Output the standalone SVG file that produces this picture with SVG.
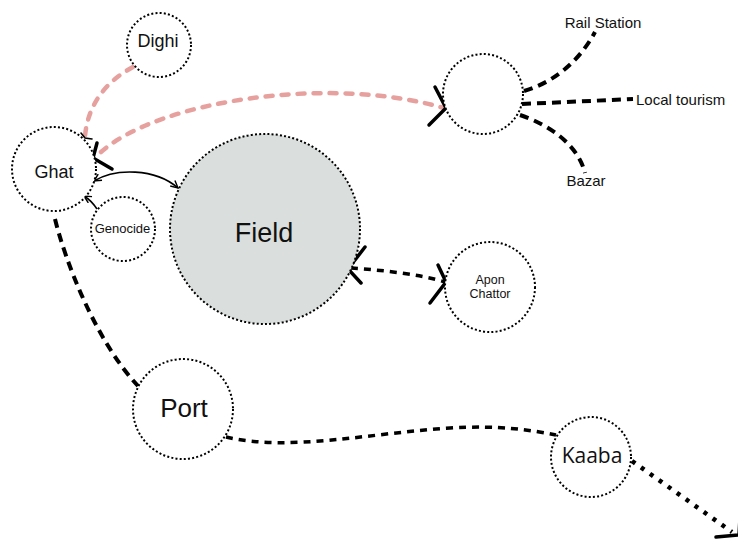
<svg xmlns="http://www.w3.org/2000/svg" width="738" height="540" viewBox="0 0 738 540">
  <defs>
    <style>
      .node { fill: #ffffff; stroke: #000; stroke-width: 2; stroke-dasharray: 2 2.2; }
      .field { fill: #dadfdd; }
      .lbl { font-family: "Liberation Sans", Arial, sans-serif; fill: #111; text-anchor: middle; }
      .lbl2 { font-family: "Open Sans", "Liberation Sans", sans-serif; fill: #111; text-anchor: middle; }
      .pink { fill: none; stroke: #e6a19e; stroke-width: 4.5; stroke-linecap: round; stroke-dasharray: 7 9; }
      .dash { fill: none; stroke: #000; stroke-width: 4; stroke-dasharray: 9 6; }
      .dash2 { fill: none; stroke: #000; stroke-width: 3.5; stroke-dasharray: 7 6; }
      .dots { fill: none; stroke: #000; stroke-width: 4.5; stroke-dasharray: 4 7; }
      .thin { fill: none; stroke: #000; stroke-width: 1.6; }
      .head { fill: none; stroke: #000; stroke-width: 3.5; stroke-linecap: round; stroke-linejoin: miter; }
      .tick { fill: none; stroke: #000; stroke-width: 1.6; stroke-linecap: round; }
    </style>
    <marker id="openArrow" viewBox="0 0 10 10" refX="9" refY="5" markerWidth="9" markerHeight="9" markerUnits="userSpaceOnUse" orient="auto-start-reverse">
      <path d="M1,1 L9,5 L1,9" fill="none" stroke="#000" stroke-width="1.6"/>
    </marker>
  </defs>

  <!-- connectors -->
  <g id="connectors">
    <!-- Dighi to Ghat -->
    <path class="pink" d="M133,67 C105,82 88,105 85,136"/>
    <polyline class="tick" points="81,133 85,138 92,139"/>

    <!-- Ghat to the hub on the right -->
    <path class="pink" d="M101,152 C160,100 330,75 444,108"/>
    <polyline class="head" points="97,143 93,158 112,169"/>
    <polyline class="head" points="435,87 446,108 429,125"/>

    <!-- Ghat <-> Field -->
    <path class="thin" d="M94,181 C115,168 155,168 178,188" marker-start="url(#openArrow)" marker-end="url(#openArrow)"/>

    <!-- Genocide to Ghat -->
    <path class="thin" d="M97,209 C93,203 89,199 84,196" marker-end="url(#openArrow)"/>

    <!-- Field <-> Apon Chattor -->
    <path class="dash2" d="M351,268 C380,270 420,274 445,282"/>
    <polyline class="head" points="365,247 348,269 361,283"/>
    <polyline class="head" points="438,265 446,282 430,303"/>

    <!-- hub spokes -->
    <path class="dash" d="M524,91 C555,82 580,60 595,32"/>
    <path class="dash" d="M522,104 L633,99"/>
    <path class="dash" d="M520,115 C550,125 578,145 585,173"/>

    <!-- Ghat to Port -->
    <path class="dash" d="M55,219 C65,260 95,340 138,386"/>

    <!-- Port to Kaaba -->
    <path class="dash2" d="M226,437 C290,452 370,433 450,428 C500,425 530,430 556,435"/>

    <!-- Kaaba onward -->
    <path class="dots" d="M632,461 L732,532"/>
    <polyline class="head" points="716,537 739,535 740,518"/>
  </g>

  <!-- nodes -->
  <g id="node-dighi">
    <circle class="node" cx="159" cy="45" r="32"/>
    <text class="lbl" x="158" y="47" font-size="18">Dighi</text>
  </g>
  <g id="node-ghat">
    <circle class="node" cx="54" cy="169" r="42"/>
    <text class="lbl" x="54" y="178" font-size="18">Ghat</text>
  </g>
  <g id="node-genocide">
    <circle class="node" cx="123" cy="229" r="32"/>
    <text class="lbl" x="122.5" y="233" font-size="13">Genocide</text>
  </g>
  <g id="node-field">
    <circle class="node field" cx="265" cy="229" r="95"/>
    <text class="lbl" x="264" y="242" font-size="27">Field</text>
  </g>
  <g id="node-hub">
    <circle class="node" cx="483" cy="94" r="40"/>
  </g>
  <g id="label-rail">
    <text class="lbl" x="603" y="28" font-size="15">Rail Station</text>
  </g>
  <g id="label-tourism">
    <text class="lbl" x="636" y="105" font-size="15" style="text-anchor:start">Local tourism</text>
  </g>
  <g id="label-bazar">
    <text class="lbl" x="586" y="186" font-size="15">Bazar</text>
  </g>
  <g id="node-apon">
    <circle class="node" cx="490" cy="287" r="45"/>
    <text class="lbl" x="490" y="284" font-size="12.5">Apon</text>
    <text class="lbl" x="490" y="297.5" font-size="12.5">Chattor</text>
  </g>
  <g id="node-port">
    <circle class="node" cx="183" cy="409" r="50"/>
    <text class="lbl" x="184" y="417" font-size="26">Port</text>
  </g>
  <g id="node-kaaba">
    <circle class="node" cx="591" cy="457" r="40"/>
    <text class="lbl2" x="592" y="463" font-size="21">Kaaba</text>
  </g>
</svg>
